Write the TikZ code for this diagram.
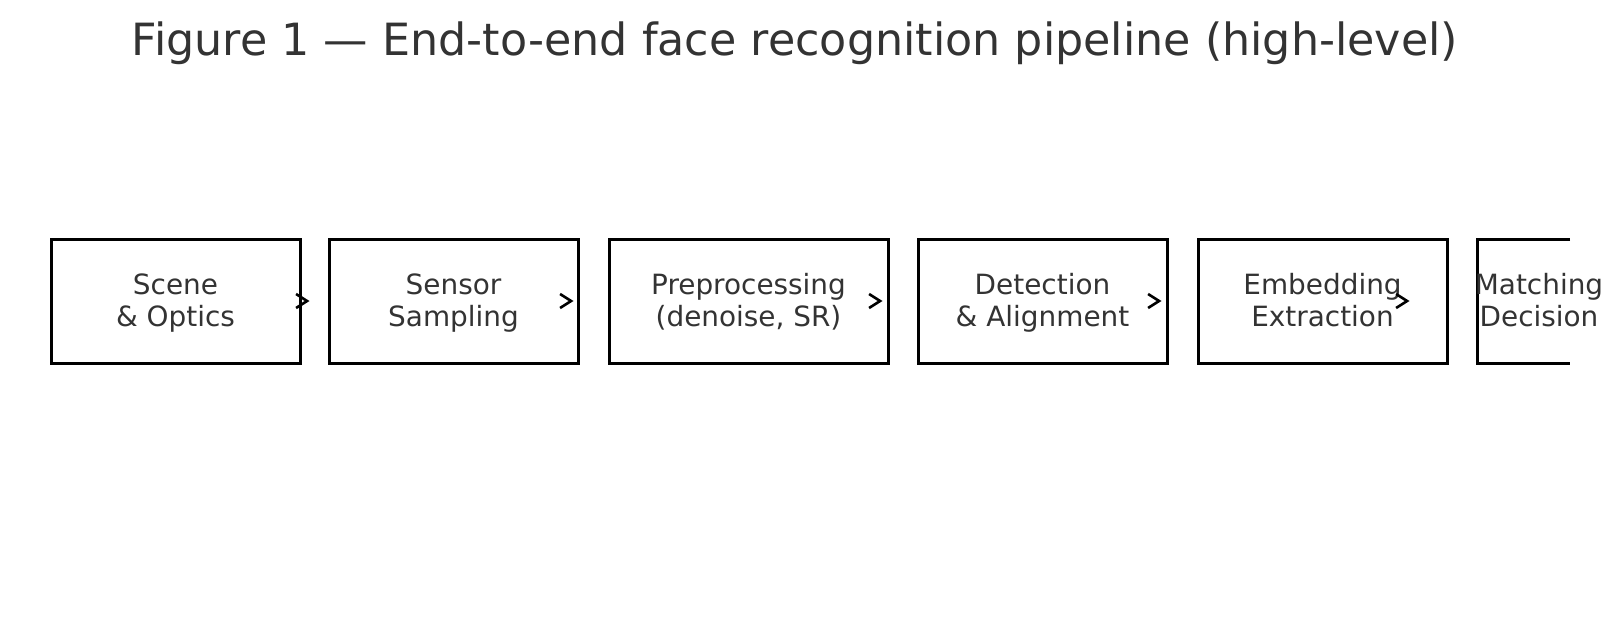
\documentclass[tikz,border=0pt]{standalone}
\usepackage{fontspec}
\setmainfont{DejaVu Sans}
\usetikzlibrary{arrows.meta}
\definecolor{txtgray}{HTML}{333333}

\tikzset{
  stage/.style={draw=black, line width=3pt, minimum width=249pt, minimum height=124pt,
    inner sep=0pt},
  wide/.style={stage, minimum width=279pt},
  stagetext/.style={text=txtgray, align=center, inner sep=0pt, yshift=-4pt,
    font=\fontsize{27.9}{32}\selectfont,
    execute at begin node=\strut, execute at end node=\strut},
  flow/.style={line width=2.6pt, -{Straight Barb[length=11pt,width=14pt]}},
}

\begin{document}
\begin{tikzpicture}[x=1pt, y=-1pt]
\useasboundingbox (0,0) rectangle (1622,629);

% title
\node[anchor=base, text=txtgray, font=\fontsize{44.4}{52}\selectfont] (title) at (795,55)
  {Figure 1 --- End-to-end face recognition pipeline (high-level)};

% pipeline stages
\node[stage, label={[stagetext]center:{Scene\\\& Optics}}] (scene) at (175.5,301) {};
\node[stage, label={[stagetext]center:{Sensor\\Sampling}}] (sensor) at (453.5,301) {};
\node[wide, label={[stagetext]center:{Preprocessing\\(denoise, SR)}}] (prep) at (748.5,301) {};
\node[stage, label={[stagetext]center:{Detection\\\& Alignment}}] (detect) at (1042.5,301) {};
\node[stage, label={[stagetext]center:{Embedding\\Extraction}}] (embed) at (1322.5,301) {};

% last stage runs off the right edge
\draw[line width=3pt] (1570,239) -- (1477,239) -- (1477,363) -- (1570,363);
\node[stagetext] (match) at (1539,301) {Matching\\Decision};

% arrows
\draw[flow] ([xshift=6pt]scene.east) -- ([xshift=8pt]scene.east);
\draw[flow] ([xshift=-8pt]sensor.east) -- ([xshift=-6pt]sensor.east);
\draw[flow] ([xshift=-9pt]prep.east) -- ([xshift=-7pt]prep.east);
\draw[flow] ([xshift=-9pt]detect.east) -- ([xshift=-7pt]detect.east);
\draw[flow] ([xshift=-41pt]embed.east) -- ([xshift=-39pt]embed.east);

\end{tikzpicture}
\end{document}
